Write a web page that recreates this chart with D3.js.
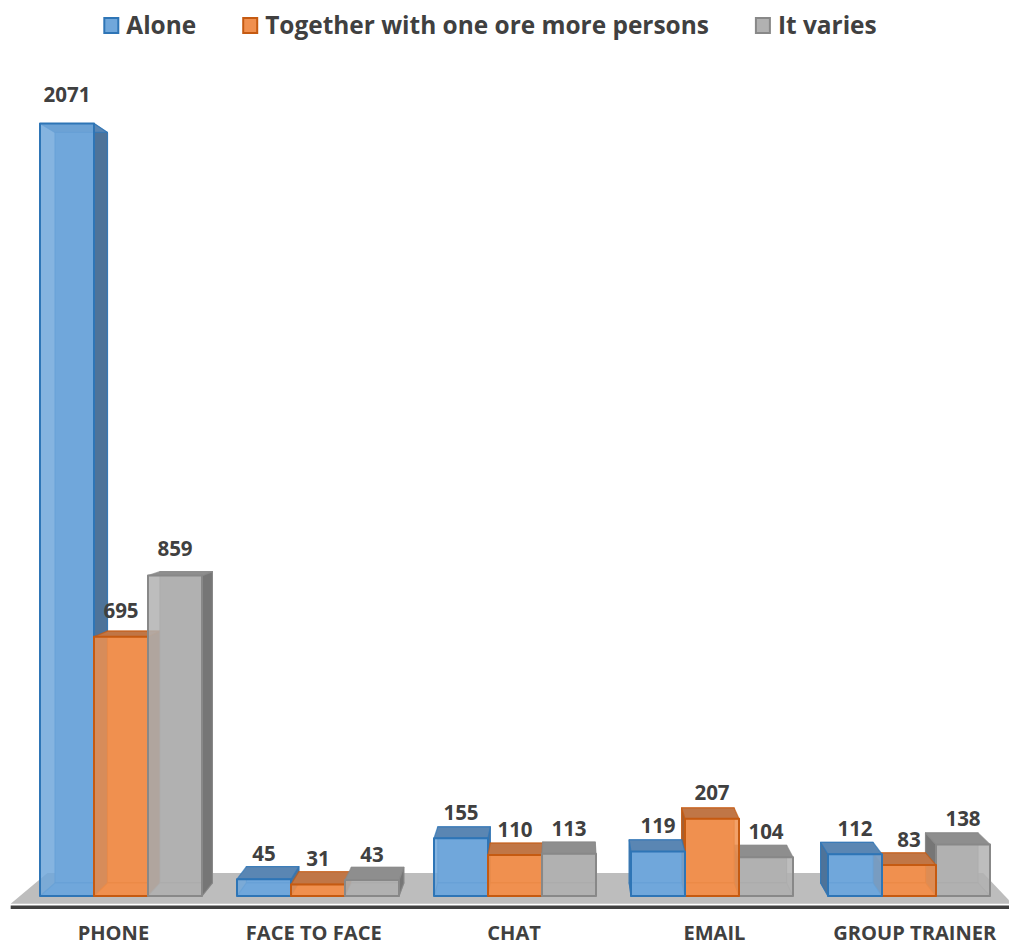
<!DOCTYPE html>
<html><head><meta charset="utf-8">
<script src="https://cdn.jsdelivr.net/npm/d3@7"></script>
<style>
body{margin:0;background:#fff}
text{font-family:"Open Sans","Noto Sans",sans-serif;font-weight:700;fill:#404040}
</style>
</head><body><svg id="c" width="1009" height="947"></svg>
<script>
const categories = ["PHONE", "FACE TO FACE", "CHAT", "EMAIL", "GROUP TRAINER"];
const seriesNames = ["Alone", "Together with one ore more persons", "It varies"];
const alone    = [2071, 45, 155, 119, 112];
const together = [695, 31, 110, 207, 83];
const varies   = [859, 43, 113, 104, 138];
const seriesValues = [alone, together, varies];

const palette = [
  {front:"#70A7DB", edge:"#2E75B6", top:"#5A86B3", side:"#4E7399"},
  {front:"#F0904F", edge:"#C55A11", top:"#C07646", side:"#A65E2F"},
  {front:"#B1B1B1", edge:"#888888", top:"#8E8E8E", side:"#767676"}
];

const W = 1009, H = 947;
const svg = d3.select("#c");
const VP = {x:568, y:437};
const F_BACK = 0.9716, F_FLOOR_FRONT = 1.017, F_FLOOR_BACK = 0.95;
const proj = (x, yy, f) => [VP.x + (x - VP.x) * f, VP.y + (yy - VP.y) * f];

const x0 = d3.scaleBand().domain(categories).range([40, 990]).paddingInner(35/197);
const x1 = d3.scaleBand().domain(seriesNames).range([0, x0.bandwidth()]);
const y = d3.scaleLinear().domain([0, 2000]).range([896, 150]);

function fitSize(str, target, base) {
  const t = svg.append("text").style("font-size", base + "px").text(str);
  const w = t.node().getComputedTextLength();
  t.remove();
  return base * target / w;
}

// floor
const yb = y(0);
const fl = [proj(20, yb, F_FLOOR_FRONT), proj(1005, yb, F_FLOOR_FRONT),
            proj(1005, yb, F_FLOOR_BACK), proj(20, yb, F_FLOOR_BACK)];
svg.append("polygon").attr("points", fl.map(p => p.join(",")).join(" "))
  .attr("fill", "#BDBDBD");
svg.append("line").attr("x1", fl[0][0]).attr("x2", W)
  .attr("y1", fl[0][1] + 3.5).attr("y2", fl[0][1] + 3.5)
  .attr("stroke", "#404040").attr("stroke-width", 3.5);

// bars
const bars = [];
categories.forEach((c, i) => {
  seriesNames.forEach((s, j) => {
    const X0 = x0(c) + x1(s), X1 = X0 + x1.bandwidth();
    bars.push({c, s, j, v: seriesValues[j][i], X0, X1, cx: (X0 + X1) / 2});
  });
});
bars.sort((a, b) => Math.abs(b.cx - VP.x) - Math.abs(a.cx - VP.x));

const pts = arr => arr.map(p => p.join(",")).join(" ");
bars.forEach(b => {
  const col = palette[b.j];
  const yt = y(b.v);
  const fbl = proj(b.X0, yb, 1), fbr = proj(b.X1, yb, 1), ftr = proj(b.X1, yt, 1), ftl = proj(b.X0, yt, 1);
  const bbl = proj(b.X0, yb, F_BACK), bbr = proj(b.X1, yb, F_BACK), btr = proj(b.X1, yt, F_BACK), btl = proj(b.X0, yt, F_BACK);
  const g = svg.append("g");
  const face = (p, fill, op) => g.append("polygon").attr("points", pts(p))
    .attr("fill", fill).attr("fill-opacity", op)
    .attr("stroke", col.edge).attr("stroke-width", 1.2).attr("stroke-opacity", 0.7)
    .attr("stroke-linejoin", "round");
  face([bbl, bbr, btr, btl], col.front, 1);
  face([fbl, fbr, bbr, bbl], col.front, 1);
  if (b.cx < VP.x) face([fbr, bbr, btr, ftr], col.side, 1);
  else face([fbl, bbl, btl, ftl], col.side, 1);
  face([ftl, ftr, btr, btl], col.top, 1);
  g.append("polygon").attr("points", pts([fbl, fbr, ftr, ftl]))
    .attr("fill", col.front).attr("fill-opacity", 0.85)
    .attr("stroke", col.edge).attr("stroke-width", 2).attr("stroke-linejoin", "round");
  b.labelY = btl[1] - (5 + 0.033 * (yb - yt));
  b.labelX = (ftl[0] + ftr[0]) / 2;
});

// value labels
const valSize = fitSize("2071", 47, 20);
bars.forEach(b => {
  svg.append("text").attr("x", b.labelX).attr("y", b.labelY)
    .attr("text-anchor", "middle").style("font-size", valSize + "px").text(b.v);
});

// category labels
const catSize = fitSize("GROUP TRAINER", 163, 18);
categories.forEach(c => {
  const cx = x0(c) + x0.bandwidth() / 2;
  const p = proj(cx, yb, F_FLOOR_FRONT);
  svg.append("text").attr("x", p[0]).attr("y", 940)
    .attr("text-anchor", "middle").style("font-size", catSize + "px").text(c);
});

// legend
const legSize = fitSize(seriesNames[1], 444, 22);
const lg = svg.append("g");
let lx = 0;
seriesNames.forEach((s, j) => {
  const item = lg.append("g").attr("transform", `translate(${lx},0)`);
  item.append("rect").attr("x", 1).attr("y", 18).attr("width", 14).attr("height", 15)
    .attr("fill", palette[j].front).attr("stroke", palette[j].edge).attr("stroke-width", 2);
  const t = item.append("text").attr("x", 23).attr("y", 33.5)
    .style("font-size", legSize + "px").text(s);
  lx += 23 + t.node().getComputedTextLength() + 46;
});
const lw = lx - 46;
lg.attr("transform", `translate(${491 - lw / 2 - 1},0)`);
</script>
</body></html>
